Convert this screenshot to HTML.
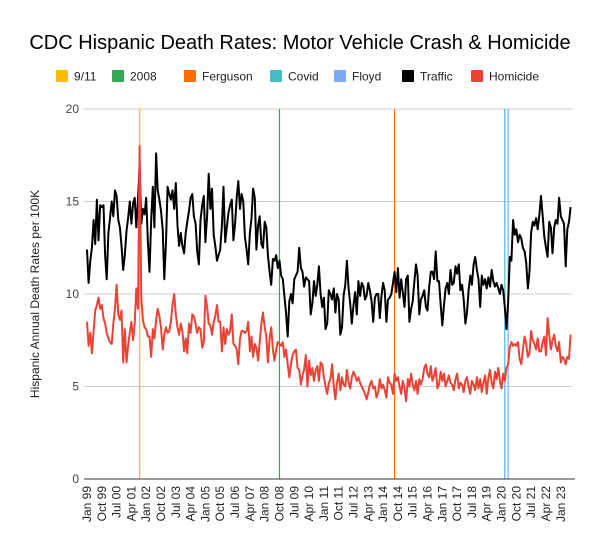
<!DOCTYPE html>
<html><head><meta charset="utf-8">
<style>
html,body{margin:0;padding:0;background:#fff;}
svg{display:block;font-family:"Liberation Sans",Arial,sans-serif;}
</style></head>
<body>
<svg id="chart" width="600" height="553" viewBox="0 0 600 553">
<rect width="600" height="553" fill="#fff"/>
<text x="300" y="49" text-anchor="middle" font-size="20" fill="#000">CDC Hispanic Death Rates: Motor Vehicle Crash &amp; Homicide</text>
<g id="legend"></g>
<text transform="translate(39,294) rotate(-90)" text-anchor="middle" font-size="12" fill="#222">Hispanic Annual Death Rates per 100K</text>
<g id="grid"></g>
<g id="events"></g>
<g id="series"></g>
<g id="xaxis"></g>
</svg>
<script>
const traffic = [
12.4,10.6,11.8,12.5,14.0,12.7,15.1,12.9,14.8,14.7,14.8,12.1,
10.8,13.3,14.1,15.0,14.2,15.6,15.3,14.0,13.6,12.6,11.3,12.1,
13.4,14.1,15.0,13.8,14.9,15.2,13.6,15.1,16.9,13.8,14.6,14.3,
15.2,12.8,11.2,14.0,15.8,13.6,17.6,15.6,15.1,14.5,13.5,10.8,
12.8,15.8,15.4,15.1,15.6,14.6,16.0,13.7,12.6,13.3,12.6,12.2,
13.3,13.9,14.5,15.2,15.4,14.2,13.8,12.3,11.6,14.0,14.8,15.3,
12.8,14.2,16.5,14.6,15.7,13.2,12.6,11.8,12.1,12.4,13.7,15.8,
12.8,13.6,14.4,14.8,15.1,12.9,13.8,15.2,16.1,14.6,15.4,15.0,
13.1,12.4,11.6,13.3,14.1,15.7,15.2,12.4,13.7,14.2,12.7,12.5,
13.9,13.6,12.1,11.2,10.5,11.9,11.8,12.1,11.4,11.8,11.0,10.8,
9.9,9.0,7.7,9.6,10.0,9.5,10.8,11.0,11.2,12.5,11.4,11.2,
10.4,10.9,10.8,10.7,8.9,9.5,10.7,9.9,10.5,11.5,10.0,9.3,
9.8,8.1,8.4,10.2,10.0,9.7,10.3,9.0,10.0,9.7,7.8,8.2,
9.9,10.5,11.8,10.3,9.5,8.4,9.4,10.1,8.9,10.7,9.9,10.6,
10.4,9.7,9.9,10.6,10.2,9.6,8.5,9.8,10.0,10.0,8.7,9.9,
10.6,10.2,8.5,9.7,9.8,10.0,10.6,11.2,10.1,11.4,9.8,10.8,
10.1,9.3,10.8,11.0,8.5,9.2,9.6,10.7,11.6,11.0,8.9,9.7,
9.9,10.2,9.3,9.1,10.4,11.2,11.2,10.8,12.3,10.7,10.7,9.4,
8.3,9.4,10.3,10.6,10.0,11.3,10.5,10.6,11.5,11.1,11.6,10.2,
10.5,9.7,8.4,9.0,10.2,11.0,10.5,11.6,12.0,11.3,10.8,9.3,
11.0,10.5,10.8,10.3,10.9,10.4,11.3,10.7,10.4,10.6,10.3,10.0,
10.5,10.2,9.3,8.1,9.5,12.0,11.8,14.0,13.2,13.5,12.8,13.2,
13.0,12.5,12.3,11.7,10.3,11.2,13.3,13.9,13.7,14.1,13.5,14.3,
15.3,14.2,13.1,12.5,12.0,13.9,13.6,12.2,13.6,14.0,13.8,15.2,
14.2,14.0,13.8,11.5,13.5,13.9,14.7];
const homicide = [
8.5,7.2,7.9,6.8,8.0,9.1,9.4,9.8,9.2,9.4,8.7,8.4,
7.9,7.6,7.4,7.3,8.4,9.2,10.5,8.9,8.6,9.1,6.3,8.1,
6.3,7.2,7.9,8.5,7.5,8.4,10.3,9.2,18.0,9.8,8.6,8.2,
8.1,7.7,7.7,6.6,8.1,7.6,8.6,9.2,8.8,8.2,7.0,7.8,
8.2,7.9,8.0,8.5,9.4,10.0,8.9,8.2,7.8,8.4,8.0,6.9,
7.6,6.8,8.4,7.9,8.9,8.8,8.4,7.9,8.2,8.1,7.1,7.4,
9.9,9.3,8.4,8.3,7.8,8.5,8.8,9.4,8.5,8.5,6.9,8.2,
7.3,8.1,7.8,8.0,8.9,7.3,7.2,7.0,6.2,7.6,8.0,8.0,
7.9,8.0,8.5,6.9,7.7,6.6,7.3,7.1,6.4,7.4,8.4,9.0,
8.2,7.7,6.3,7.6,8.2,7.0,6.4,7.0,7.4,7.3,7.2,7.4,
6.6,7.0,6.2,5.5,6.2,6.7,6.9,7.0,6.0,5.9,5.1,5.6,
5.9,6.7,5.0,6.4,5.6,6.0,5.3,5.9,6.1,5.3,6.3,6.2,
5.5,5.0,4.6,5.2,5.4,6.2,5.0,4.3,5.2,5.7,4.8,5.5,
5.1,5.0,5.9,5.2,4.9,5.5,5.8,5.6,5.3,5.5,5.2,5.0,
4.8,4.6,4.3,4.7,5.1,5.3,4.9,5.0,4.4,4.7,5.4,4.9,
5.1,4.8,4.4,5.5,5.2,5.1,4.6,5.7,5.3,5.5,5.0,4.6,
5.3,4.9,4.2,5.4,5.0,5.7,5.1,4.8,5.3,4.6,5.4,5.1,
5.4,6.0,6.2,5.7,5.5,6.1,5.3,5.6,6.0,4.9,5.1,5.8,
5.3,5.7,5.0,5.3,5.6,5.2,5.1,4.8,5.4,5.7,4.9,5.2,
5.1,4.7,5.3,5.5,5.0,4.6,5.3,5.1,4.8,5.5,4.9,5.4,
4.7,5.2,5.6,4.6,5.5,5.9,5.2,4.9,5.8,5.4,6.0,5.3,
4.9,5.7,5.3,6.0,6.2,7.1,7.4,7.2,7.3,7.2,7.4,6.5,
6.2,7.0,7.7,7.3,6.6,6.8,8.0,7.5,7.3,7.0,7.6,6.9,
6.9,7.4,7.7,6.7,8.7,7.8,7.0,7.5,7.8,7.2,6.9,7.4,
6.3,6.6,6.5,6.2,6.6,6.5,7.8];
const yTicks = [0,5,10,15,20];
const tickLabels = ["Jan 99","Oct 99","Jul 00","Apr 01","Jan 02","Oct 02","Jul 03","Apr 04","Jan 05","Oct 05","Jul 06","Apr 07","Jan 08","Oct 08","Jul 09","Apr 10","Jan 11","Oct 11","Jul 12","Apr 13","Jan 14","Oct 14","Jul 15","Apr 16","Jan 17","Oct 17","Jul 18","Apr 19","Jan 20","Oct 20","Jul 21","Apr 22","Jan 23"];
const eventNames = ["9/11","2008","Ferguson","Covid","Floyd"];
const eventMonths = [32,117,187,254,256];
const eventColors = ["#fbbc04","#34a853","#ff6d01","#46bdc6","#7baaf7"];

const NS="http://www.w3.org/2000/svg";
const X0=87, STEP=1.645, Y0=479, YS=18.5;
const xs=i=>X0+i*STEP;
const ys=v=>Y0-v*YS;
function mk(tag,parent){const e=document.createElementNS(NS,tag);parent.appendChild(e);return e;}

const grid=document.getElementById('grid');
yTicks.forEach(t=>{
  if(t>0){const l=mk('line',grid);
  
  
  l.setAttribute('x1',84);l.setAttribute('x2',572);l.setAttribute('y1',ys(t));l.setAttribute('y2',ys(t));
  l.setAttribute('stroke','#ccc');l.setAttribute('stroke-width',1);}
  const tx=mk('text',grid);
  
  
  tx.setAttribute('x',79);tx.setAttribute('y',ys(t)+4);tx.setAttribute('text-anchor','end');
  tx.setAttribute('font-size','12');tx.setAttribute('fill','#444');tx.textContent=t;
});

const ev=document.getElementById('events');
eventMonths.forEach((m,k)=>{
  const l=mk('line',ev);
  
  
  l.setAttribute('x1',xs(m));l.setAttribute('x2',xs(m));l.setAttribute('y1',109);l.setAttribute('y2',479);
  l.setAttribute('stroke',eventColors[k]);l.setAttribute('stroke-width',1.2);
});

const ser=document.getElementById('series');
function line(arr,color,name){
  const p=mk('path',ser);
  
  
  p.setAttribute('d',arr.map((v,i)=>(i?'L':'M')+xs(i).toFixed(1)+','+ys(v).toFixed(1)).join(''));
  p.setAttribute('fill','none');p.setAttribute('stroke',color);p.setAttribute('stroke-width',2);
  p.setAttribute('stroke-linejoin','round');
}
line(traffic,'#000','traffic-line');
line(homicide,'#ea4335','homicide-line');

const xa=document.getElementById('xaxis');
const ax=mk('line',xa);


ax.setAttribute('x1',84);ax.setAttribute('x2',575);ax.setAttribute('y1',479);ax.setAttribute('y2',479);
ax.setAttribute('stroke','#333');ax.setAttribute('stroke-width',1);
tickLabels.forEach((t,k)=>{
  const x=xs(k*9)+4;
  const tx=mk('text',xa);
  
  
  tx.setAttribute('transform','translate('+x.toFixed(1)+',486) rotate(-90)');
  tx.setAttribute('text-anchor','end');tx.setAttribute('font-size','12');tx.setAttribute('fill','#222');
  tx.textContent=t;
});

const lg=document.getElementById('legend');
const legNames=eventNames.concat(["Traffic","Homicide"]);
const legColors=eventColors.concat(["#000","#ea4335"]);
const legX=[56,112,184,270,334,402,471];
legNames.forEach((n,k)=>{
  const g=mk('g',lg);
  
  
  const r=mk('rect',g);
  r.setAttribute('x',legX[k]);r.setAttribute('y',70);r.setAttribute('width',12);r.setAttribute('height',12);
  r.setAttribute('rx',1);r.setAttribute('fill',legColors[k]);
  const tx=mk('text',g);
  tx.setAttribute('x',legX[k]+18);tx.setAttribute('y',80.5);tx.setAttribute('font-size','12');tx.setAttribute('fill','#222');
  tx.textContent=n;
});
</script>
</body></html>
